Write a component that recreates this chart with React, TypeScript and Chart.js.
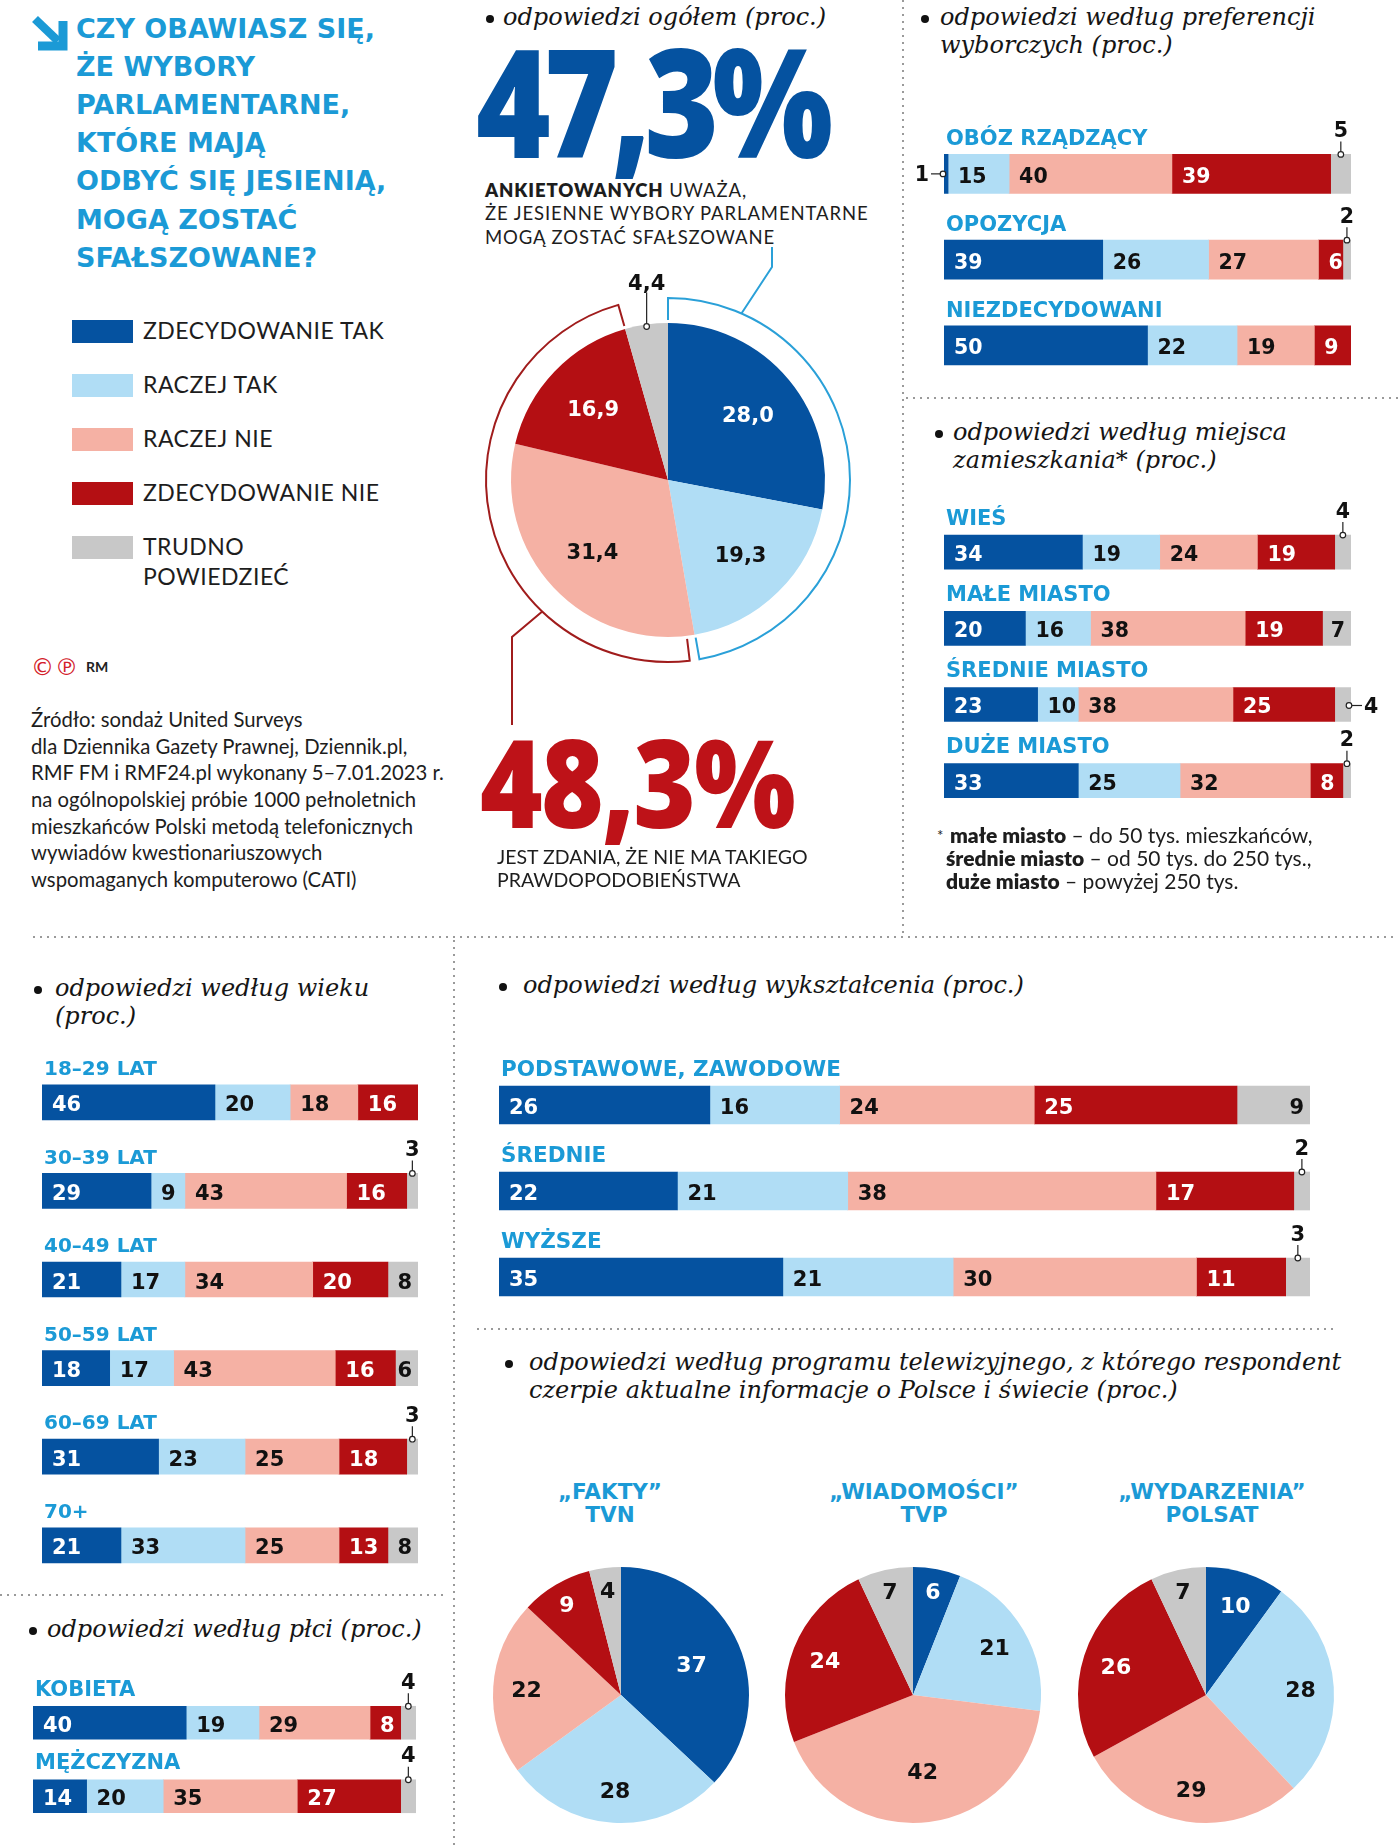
import React, { useEffect, useRef } from 'react';
import { Chart, registerables } from 'chart.js';

Chart.register(...registerables);

// ---------------- data ----------------
const answerLabels = ['ZDECYDOWANIE TAK', 'RACZEJ TAK', 'RACZEJ NIE', 'ZDECYDOWANIE NIE', 'TRUDNO POWIEDZIEĆ'];

const overallValues = [28.0, 19.3, 31.4, 16.9, 4.4];

const prefCategories = ['OBÓZ RZĄDZĄCY', 'OPOZYCJA', 'NIEZDECYDOWANI'];
const prefDefYes = [1, 39, 50];
const prefRatherYes = [15, 26, 22];
const prefRatherNo = [40, 27, 19];
const prefDefNo = [39, 6, 9];
const prefHard = [5, 2, 0];

const placeCategories = ['WIEŚ', 'MAŁE MIASTO', 'ŚREDNIE MIASTO', 'DUŻE MIASTO'];
const placeDefYes = [34, 20, 23, 33];
const placeRatherYes = [19, 16, 10, 25];
const placeRatherNo = [24, 38, 38, 32];
const placeDefNo = [19, 19, 25, 8];
const placeHard = [4, 7, 4, 2];

const ageCategories = ['18–29 LAT', '30–39 LAT', '40–49 LAT', '50–59 LAT', '60–69 LAT', '70+'];
const ageDefYes = [46, 29, 21, 18, 31, 21];
const ageRatherYes = [20, 9, 17, 17, 23, 33];
const ageRatherNo = [18, 43, 34, 43, 25, 25];
const ageDefNo = [16, 16, 20, 16, 18, 13];
const ageHard = [0, 3, 8, 6, 3, 8];

const genderCategories = ['KOBIETA', 'MĘŻCZYZNA'];
const genderDefYes = [40, 14];
const genderRatherYes = [19, 20];
const genderRatherNo = [29, 35];
const genderDefNo = [8, 27];
const genderHard = [4, 4];

const eduCategories = ['PODSTAWOWE, ZAWODOWE', 'ŚREDNIE', 'WYŻSZE'];
const eduDefYes = [26, 22, 35];
const eduRatherYes = [16, 21, 21];
const eduRatherNo = [24, 38, 30];
const eduDefNo = [25, 17, 11];
const eduHard = [9, 2, 3];

const tvPrograms = ['„FAKTY”', '„WIADOMOŚCI”', '„WYDARZENIA”'];
const tvChannels = ['TVN', 'TVP', 'POLSAT'];
const tvFakty = [37, 28, 22, 9, 4];
const tvWiadomosci = [6, 21, 42, 24, 7];
const tvWydarzenia = [10, 28, 29, 26, 7];

// ---------------- style ----------------
const DARK_BLUE = '#0552a0';
const LIGHT_BLUE = '#b0ddf5';
const PINK = '#f5b1a4';
const RED = '#b40f13';
const GREY = '#c8c8c8';
const SEG_COLORS = [DARK_BLUE, LIGHT_BLUE, PINK, RED, GREY];
const SEG_TEXT = ['#ffffff', '#111111', '#111111', '#ffffff', '#111111'];
const TITLE_BLUE = '#1b9ad6';
const HEAVY = '"DejaVu Sans", sans-serif';
const SERIF = '"DejaVu Serif", serif';
const BODY = 'Lato, "Open Sans", sans-serif';
const BIG = '"Open Sans", sans-serif';

const fmtPl = (v: number) => v.toFixed(1).replace('.', ',');
const yesShare = overallValues[0] + overallValues[1];
const noShare = overallValues[2] + overallValues[3];

// ---------------- helpers ----------------
function dot(ctx: CanvasRenderingContext2D, x: number, y: number) {
  ctx.beginPath();
  ctx.arc(x, y, 2.8, 0, Math.PI * 2);
  ctx.fillStyle = '#ffffff';
  ctx.fill();
  ctx.lineWidth = 1.2;
  ctx.strokeStyle = '#222';
  ctx.stroke();
}

type BarCfg = {
  categories: string[];
  series: number[][];
  barLeft: number;
  barRight: number;
  firstCenter: number;
  band: number;
  barH: number;
  labelOffset: number;
  labelFs: number;
  valueFs: number;
  ext: { top: number; right: number; bottom: number; left: number };
  rightCallouts?: number[];
};

function makeBarPlugin(p: BarCfg) {
  return {
    id: 'barLabels',
    afterDatasetsDraw(chart: any) {
      const ctx: CanvasRenderingContext2D = chart.ctx;
      const area = chart.chartArea;
      ctx.save();
      const meta0 = chart.getDatasetMeta(0);
      ctx.font = `bold ${p.labelFs}px "DejaVu Sans"`;
      ctx.fillStyle = TITLE_BLUE;
      ctx.textAlign = 'left';
      ctx.textBaseline = 'alphabetic';
      meta0.data.forEach((el: any, j: number) => {
        ctx.fillText(p.categories[j], area.left + 2, el.y - p.labelOffset + 0.3645 * p.labelFs);
      });
      const vf = p.valueFs;
      chart.data.datasets.forEach((ds: any, i: number) => {
        const meta = chart.getDatasetMeta(i);
        meta.data.forEach((el: any, j: number) => {
          const v = ds.data[j];
          if (!v) return;
          const l = Math.min(el.x, el.base);
          const r = Math.max(el.x, el.base);
          ctx.font = `bold ${vf}px "DejaVu Sans"`;
          if (v > 5) {
            const yb = el.y + 1.5 + 0.3645 * vf;
            ctx.fillStyle = SEG_TEXT[i];
            if (i === 4) {
              ctx.textAlign = 'right';
              ctx.fillText(String(v), r - 6, yb);
            } else {
              ctx.textAlign = 'left';
              ctx.fillText(String(v), l + 10, yb);
            }
          } else {
            ctx.strokeStyle = '#222';
            ctx.lineWidth = 1.2;
            const barTop = el.y - p.barH / 2;
            if (i === 0) {
              ctx.beginPath();
              ctx.moveTo(l - 3, el.y);
              ctx.lineTo(l - 13, el.y);
              ctx.stroke();
              dot(ctx, l - 1, el.y);
              ctx.fillStyle = '#111';
              ctx.textAlign = 'right';
              ctx.fillText(String(v), l - 15, el.y + 0.3645 * vf);
            } else if (p.rightCallouts && p.rightCallouts.includes(j)) {
              ctx.beginPath();
              ctx.moveTo(r + 1, el.y + 1);
              ctx.lineTo(r + 11, el.y + 1);
              ctx.stroke();
              dot(ctx, r - 2, el.y + 1);
              ctx.fillStyle = '#111';
              ctx.textAlign = 'left';
              ctx.fillText(String(v), r + 13, el.y + 1 + 0.3645 * vf);
            } else {
              const cx = (l + r) / 2;
              ctx.beginPath();
              ctx.moveTo(cx, barTop - 3);
              ctx.lineTo(cx, barTop - 13);
              ctx.stroke();
              dot(ctx, cx, barTop);
              ctx.fillStyle = '#111';
              ctx.textAlign = 'center';
              ctx.fillText(String(v), cx, barTop - 25 + 0.3645 * vf);
            }
          }
        });
      });
      ctx.restore();
    },
  };
}

function BarGroup(p: BarCfg) {
  const ref = useRef<HTMLCanvasElement>(null);
  const n = p.categories.length;
  const w = Math.round(p.barRight - p.barLeft + p.ext.left + p.ext.right);
  const h = Math.round(p.band * n + p.ext.top + p.ext.bottom);
  const left = p.barLeft - p.ext.left;
  const top = p.firstCenter - p.band / 2 - p.ext.top;
  useEffect(() => {
    const chart = new Chart(ref.current as HTMLCanvasElement, {
      type: 'bar',
      data: {
        labels: p.categories,
        datasets: p.series.map((d, i) => ({
          label: answerLabels[i],
          data: d,
          backgroundColor: SEG_COLORS[i],
          borderWidth: 0,
          barThickness: p.barH,
        })),
      },
      options: {
        indexAxis: 'y',
        animation: false,
        responsive: false,
        maintainAspectRatio: false,
        layout: {
          padding: {
            top: p.ext.top,
            bottom: h - p.ext.top - p.band * n,
            left: p.ext.left,
            right: w - p.ext.left - (p.barRight - p.barLeft),
          },
        },
        scales: {
          x: { stacked: true, min: 0, max: 100, display: false },
          y: { stacked: true, display: false },
        },
        plugins: { legend: { display: false }, tooltip: { enabled: false } },
      } as any,
      plugins: [makeBarPlugin(p)],
    });
    return () => chart.destroy();
  }, []);
  return (
    <canvas
      ref={ref}
      width={w}
      height={h}
      style={{ position: 'absolute', left, top, width: w, height: h }}
    />
  );
}

type PieCfg = {
  values: number[];
  left: number;
  top: number;
  w: number;
  h: number;
  radius: number;
  padBottom?: number;
  plugin: any;
};

function PieChart(p: PieCfg) {
  const ref = useRef<HTMLCanvasElement>(null);
  useEffect(() => {
    const chart = new Chart(ref.current as HTMLCanvasElement, {
      type: 'pie',
      data: {
        labels: answerLabels,
        datasets: [
          {
            data: p.values,
            backgroundColor: SEG_COLORS,
            borderWidth: 0,
            radius: p.radius,
          } as any,
        ],
      },
      options: {
        animation: false,
        responsive: false,
        maintainAspectRatio: false,
        layout: { padding: { bottom: p.padBottom || 0 } },
        plugins: { legend: { display: false }, tooltip: { enabled: false } },
      } as any,
      plugins: [p.plugin],
    });
    return () => chart.destroy();
  }, []);
  return (
    <canvas
      ref={ref}
      width={p.w}
      height={p.h}
      style={{ position: 'absolute', left: p.left, top: p.top, width: p.w, height: p.h }}
    />
  );
}

const mainPiePlugin = {
  id: 'mainPie',
  afterDatasetsDraw(chart: any) {
    const ctx: CanvasRenderingContext2D = chart.ctx;
    const arcs = chart.getDatasetMeta(0).data;
    const vals = chart.data.datasets[0].data as number[];
    const cx = arcs[0].x;
    const cy = arcs[0].y;
    const R = arcs[0].outerRadius;
    ctx.save();
    ctx.font = 'bold 21px "DejaVu Sans"';
    ctx.textAlign = 'center';
    ctx.textBaseline = 'alphabetic';
    arcs.forEach((a: any, i: number) => {
      const mid = (a.startAngle + a.endAngle) / 2;
      const label = fmtPl(vals[i]);
      if (i === 4) {
        const px = cx + Math.cos(mid) * (R - 2);
        const py = cy + Math.sin(mid) * (R - 2);
        ctx.strokeStyle = '#222';
        ctx.lineWidth = 1.2;
        ctx.beginPath();
        ctx.moveTo(px, py - 3);
        ctx.lineTo(px, py - 34);
        ctx.stroke();
        dot(ctx, px, py);
        ctx.fillStyle = '#111';
        ctx.fillText(label, px, py - 44 + 7.6);
      } else {
        const px = cx + Math.cos(mid) * R * 0.66;
        const py = cy + Math.sin(mid) * R * 0.66;
        ctx.fillStyle = SEG_TEXT[i];
        ctx.fillText(label, px, py + 7.6);
      }
    });
    const BR = R + 25;
    const TK = R + 3;
    const bracket = (a0: number, a1: number, color: string) => {
      ctx.strokeStyle = color;
      ctx.lineWidth = 2;
      ctx.beginPath();
      ctx.moveTo(cx + Math.cos(a0) * TK, cy + Math.sin(a0) * TK);
      ctx.lineTo(cx + Math.cos(a0) * BR, cy + Math.sin(a0) * BR);
      ctx.arc(cx, cy, BR, a0, a1);
      ctx.lineTo(cx + Math.cos(a1) * TK, cy + Math.sin(a1) * TK);
      ctx.stroke();
    };
    const blue = '#2aa0d8';
    const red = '#a01c1c';
    bracket(arcs[0].startAngle, arcs[1].endAngle - 0.004, blue);
    bracket(arcs[2].startAngle + 0.05, arcs[3].endAngle, red);
    const ab = -Math.PI / 2 + (23.8 * Math.PI) / 180;
    ctx.strokeStyle = blue;
    ctx.beginPath();
    ctx.moveTo(cx + Math.cos(ab) * BR, cy + Math.sin(ab) * BR);
    ctx.lineTo(cx + 104, cy - 213);
    ctx.lineTo(cx + 104, cy - 233);
    ctx.stroke();
    const ar = -Math.PI / 2 + (223.7 * Math.PI) / 180;
    ctx.strokeStyle = red;
    ctx.beginPath();
    ctx.moveTo(cx + Math.cos(ar) * BR, cy + Math.sin(ar) * BR);
    ctx.lineTo(cx - 156, cy + 157);
    ctx.lineTo(cx - 156, cy + 245);
    ctx.stroke();
    ctx.restore();
  },
};

const tvPiePlugin = {
  id: 'tvPie',
  afterDatasetsDraw(chart: any) {
    const ctx: CanvasRenderingContext2D = chart.ctx;
    const arcs = chart.getDatasetMeta(0).data;
    const vals = chart.data.datasets[0].data as number[];
    ctx.save();
    ctx.font = 'bold 22px "DejaVu Sans"';
    ctx.textAlign = 'center';
    ctx.textBaseline = 'alphabetic';
    arcs.forEach((a: any, i: number) => {
      const v = vals[i];
      const f = v < 10 ? 0.83 : v < 30 ? 0.74 : 0.6;
      const mid = (a.startAngle + a.endAngle) / 2;
      const px = a.x + Math.cos(mid) * a.outerRadius * f;
      const py = a.y + Math.sin(mid) * a.outerRadius * f;
      ctx.fillStyle = SEG_TEXT[i];
      ctx.fillText(String(v), px, py + 8);
    });
    ctx.restore();
  },
};

// ---------------- HTML pieces ----------------
const Txt = (props: any) => {
  const { x, top, fs, lh, family = BODY, weight = 400, color = '#1a1a1a', ls = 0, italic = false, align, width, extra, children } = props;
  return (
    <div
      style={{
        position: 'absolute',
        left: x,
        top,
        fontSize: fs,
        lineHeight: `${lh}px`,
        fontFamily: family,
        fontWeight: weight,
        color,
        letterSpacing: ls,
        fontStyle: italic ? 'italic' : 'normal',
        whiteSpace: 'pre',
        textAlign: align,
        width,
        ...(extra || {}),
      }}
    >
      {children}
    </div>
  );
};

const SerifTitle = ({ bx, x, B, text }: any) => (
  <>
    <div style={{ position: 'absolute', left: bx - 4, top: B - 10.5, width: 8, height: 8, borderRadius: '50%', background: '#111' }} />
    <Txt x={x} top={B - 22.3} fs={24} lh={28} family={SERIF} italic color="#151515">
      {text}
    </Txt>
  </>
);

const HDots = ({ x, y, w }: any) => (
  <div
    style={{
      position: 'absolute',
      left: x,
      top: y - 1,
      width: w,
      height: 2,
      backgroundImage: 'linear-gradient(to right, #9a9a9a 0px, #9a9a9a 2px, transparent 2px, transparent 100%)',
      backgroundSize: '7px 2px',
    }}
  />
);
const VDots = ({ x, y, h }: any) => (
  <div
    style={{
      position: 'absolute',
      left: x - 1,
      top: y,
      width: 2,
      height: h,
      backgroundImage: 'linear-gradient(to bottom, #9a9a9a 0px, #9a9a9a 2px, transparent 2px, transparent 100%)',
      backgroundSize: '2px 7px',
    }}
  />
);

export default function App() {
  useEffect(() => {
    document.body.style.margin = '0';
  }, []);
  const legendTop = (i: number) => 320 + 54 * i;
  return (
    <div style={{ position: 'absolute', left: 0, top: 0, width: 1400, height: 1846, background: '#fff', overflow: 'hidden', fontFamily: BODY, color: '#1a1a1a' }}>
      {/* arrow icon */}
      <svg style={{ position: 'absolute', left: 31, top: 15 }} width={37} height={36} viewBox="0 0 37 36">
        <path d="M4 4 L27 26" stroke={TITLE_BLUE} strokeWidth={8.5} fill="none" />
        <path d="M32 6 L32 31 L7 31" stroke={TITLE_BLUE} strokeWidth={9} fill="none" />
      </svg>
      <Txt x={76} top={9.6} fs={27} lh={38.2} family={HEAVY} weight={700} color={TITLE_BLUE}>
        {'CZY OBAWIASZ SIĘ,\nŻE WYBORY\nPARLAMENTARNE,\nKTÓRE MAJĄ\nODBYĆ SIĘ JESIENIĄ,\nMOGĄ ZOSTAĆ\nSFAŁSZOWANE?'}
      </Txt>

      {/* legend */}
      {answerLabels.map((lab, i) => (
        <React.Fragment key={lab}>
          <div style={{ position: 'absolute', left: 72, top: legendTop(i), width: 61, height: 23, background: SEG_COLORS[i] }} />
          <Txt x={143} top={legendTop(i) + 11.5 - 15.4} fs={23} lh={29.6} ls={0.5} color="#1d1d1d">
            {lab.replace('TRUDNO ', 'TRUDNO\n')}
          </Txt>
        </React.Fragment>
      ))}

      {/* copyright */}
      <div style={{ position: 'absolute', left: 31, top: 653, fontFamily: HEAVY, fontSize: 23, lineHeight: '28px', color: '#d3202a', letterSpacing: 1 }}>©℗</div>
      <Txt x={86} top={659} fs={14} lh={16} weight={700} color="#222">RM</Txt>

      {/* source */}
      <Txt x={31} top={705.8} fs={20.3} lh={26.7} color="#1d1d1d">
        {'Źródło: sondaż United Surveys\ndla Dziennika Gazety Prawnej, Dziennik.pl,\nRMF FM i RMF24.pl wykonany 5–7.01.2023 r.\nna ogólnopolskiej próbie 1000 pełnoletnich\nmieszkańców Polski metodą telefonicznych\nwywiadów kwestionariuszowych\nwspomaganych komputerowo (CATI)'}
      </Txt>

      {/* overall */}
      <SerifTitle bx={490} x={503} B={25} text="odpowiedzi ogółem (proc.)" />
      <Txt x={476} top={25} fs={150} lh={150} family={BIG} weight={800} color={DARK_BLUE} ls={-8} extra={{ transform: 'scaleX(0.85)', transformOrigin: '0 0' }}>
        {fmtPl(yesShare) + '%'}
      </Txt>
      <Txt x={485} top={178.5} fs={18.5} lh={23.5} ls={0.9} color="#1d1d1d">
        <span style={{ fontWeight: 800 }}>ANKIETOWANYCH</span>
        {' UWAŻA,\nŻE JESIENNE WYBORY PARLAMENTARNE\nMOGĄ ZOSTAĆ SFAŁSZOWANE'}
      </Txt>
      <PieChart values={overallValues} left={448} top={240} w={440} h={500} radius={157} padBottom={20} plugin={mainPiePlugin} />
      <Txt x={480} top={719} fs={123} lh={123} family={BIG} weight={800} color="#be1218" ls={-2} extra={{ transform: 'scaleX(0.87)', transformOrigin: '0 0' }}>
        {fmtPl(noShare) + '%'}
      </Txt>
      <Txt x={497} top={845} fs={19.5} lh={23} color="#1d1d1d">
        {'JEST ZDANIA, ŻE NIE MA TAKIEGO\nPRAWDOPODOBIEŃSTWA'}
      </Txt>

      {/* separators */}
      <VDots x={903} y={0} h={935} />
      <HDots x={906} y={398} w={492} />
      <HDots x={33} y={937} w={1365} />
      <VDots x={454} y={940} h={906} />
      <HDots x={0} y={1595} w={445} />
      <HDots x={477} y={1329} w={860} />

      {/* preferences */}
      <SerifTitle bx={925} x={940} B={25} text={'odpowiedzi według preferencji\nwyborczych (proc.)'} />
      <BarGroup
        categories={prefCategories}
        series={[prefDefYes, prefRatherYes, prefRatherNo, prefDefNo, prefHard]}
        barLeft={944}
        barRight={1351}
        firstCenter={173.5}
        band={85.75}
        barH={39}
        labelOffset={36.5}
        labelFs={21}
        valueFs={20.5}
        ext={{ top: 32, right: 40, bottom: 6, left: 40 }}
      />

      {/* place */}
      <SerifTitle bx={939} x={953} B={440} text={'odpowiedzi według miejsca\nzamieszkania* (proc.)'} />
      <BarGroup
        categories={placeCategories}
        series={[placeDefYes, placeRatherYes, placeRatherNo, placeDefNo, placeHard]}
        barLeft={944}
        barRight={1351}
        firstCenter={552.5}
        band={76.2}
        barH={34}
        labelOffset={35}
        labelFs={21}
        valueFs={20.5}
        ext={{ top: 36, right: 40, bottom: 6, left: 10 }}
        rightCallouts={[2]}
      />
      <div style={{ position: 'absolute', left: 937, top: 828, fontSize: 15, lineHeight: '15px', fontFamily: BODY, color: '#222' }}>*</div>
      <Txt x={946} top={823.4} fs={21} lh={23} color="#1d1d1d">
        <span style={{ paddingLeft: 4 }}><b style={{ fontWeight: 800 }}>małe miasto</b>{' – do 50 tys. mieszkańców,'}</span>
        {'\n'}
        <b style={{ fontWeight: 800 }}>średnie miasto</b>
        {' – od 50 tys. do 250 tys.,\n'}
        <b style={{ fontWeight: 800 }}>duże miasto</b>
        {' – powyżej 250 tys.'}
      </Txt>

      {/* age */}
      <SerifTitle bx={38} x={55} B={996} text={'odpowiedzi według wieku\n(proc.)'} />
      <BarGroup
        categories={ageCategories}
        series={[ageDefYes, ageRatherYes, ageRatherNo, ageDefNo, ageHard]}
        barLeft={42}
        barRight={418}
        firstCenter={1102.7}
        band={88.6}
        barH={35}
        labelOffset={34.5}
        labelFs={20}
        valueFs={21}
        ext={{ top: 30, right: 25, bottom: 6, left: 8 }}
      />

      {/* gender */}
      <SerifTitle bx={33} x={47} B={1637} text="odpowiedzi według płci (proc.)" />
      <BarGroup
        categories={genderCategories}
        series={[genderDefYes, genderRatherYes, genderRatherNo, genderDefNo, genderHard]}
        barLeft={33}
        barRight={416}
        firstCenter={1722.5}
        band={73.5}
        barH={33}
        labelOffset={34.5}
        labelFs={21}
        valueFs={21}
        ext={{ top: 30, right: 25, bottom: 6, left: 8 }}
      />

      {/* education */}
      <SerifTitle bx={503} x={523} B={993} text="odpowiedzi według wykształcenia (proc.)" />
      <BarGroup
        categories={eduCategories}
        series={[eduDefYes, eduRatherYes, eduRatherNo, eduDefNo, eduHard]}
        barLeft={499}
        barRight={1310}
        firstCenter={1104.5}
        band={86}
        barH={38}
        labelOffset={37}
        labelFs={21.5}
        valueFs={21}
        ext={{ top: 36, right: 30, bottom: 6, left: 10 }}
      />

      {/* TV */}
      <SerifTitle bx={509} x={529} B={1370} text={'odpowiedzi według programu telewizyjnego, z którego respondent\nczerpie aktualne informacje o Polsce i świecie (proc.)'} />
      {[tvFakty, tvWiadomosci, tvWydarzenia].map((vals, k) => {
        const cx = [621, 913, 1206][k];
        const tx = [610, 924, 1212][k];
        return (
          <React.Fragment key={k}>
            <Txt x={tx - 150} width={300} align="center" top={1480} fs={21.5} lh={23} family={HEAVY} weight={700} color={TITLE_BLUE}>
              {tvPrograms[k] + '\n' + tvChannels[k]}
            </Txt>
            <PieChart values={vals} left={cx - 140} top={1695 - 140} w={280} h={280} radius={128} plugin={tvPiePlugin} />
          </React.Fragment>
        );
      })}
    </div>
  );
}
